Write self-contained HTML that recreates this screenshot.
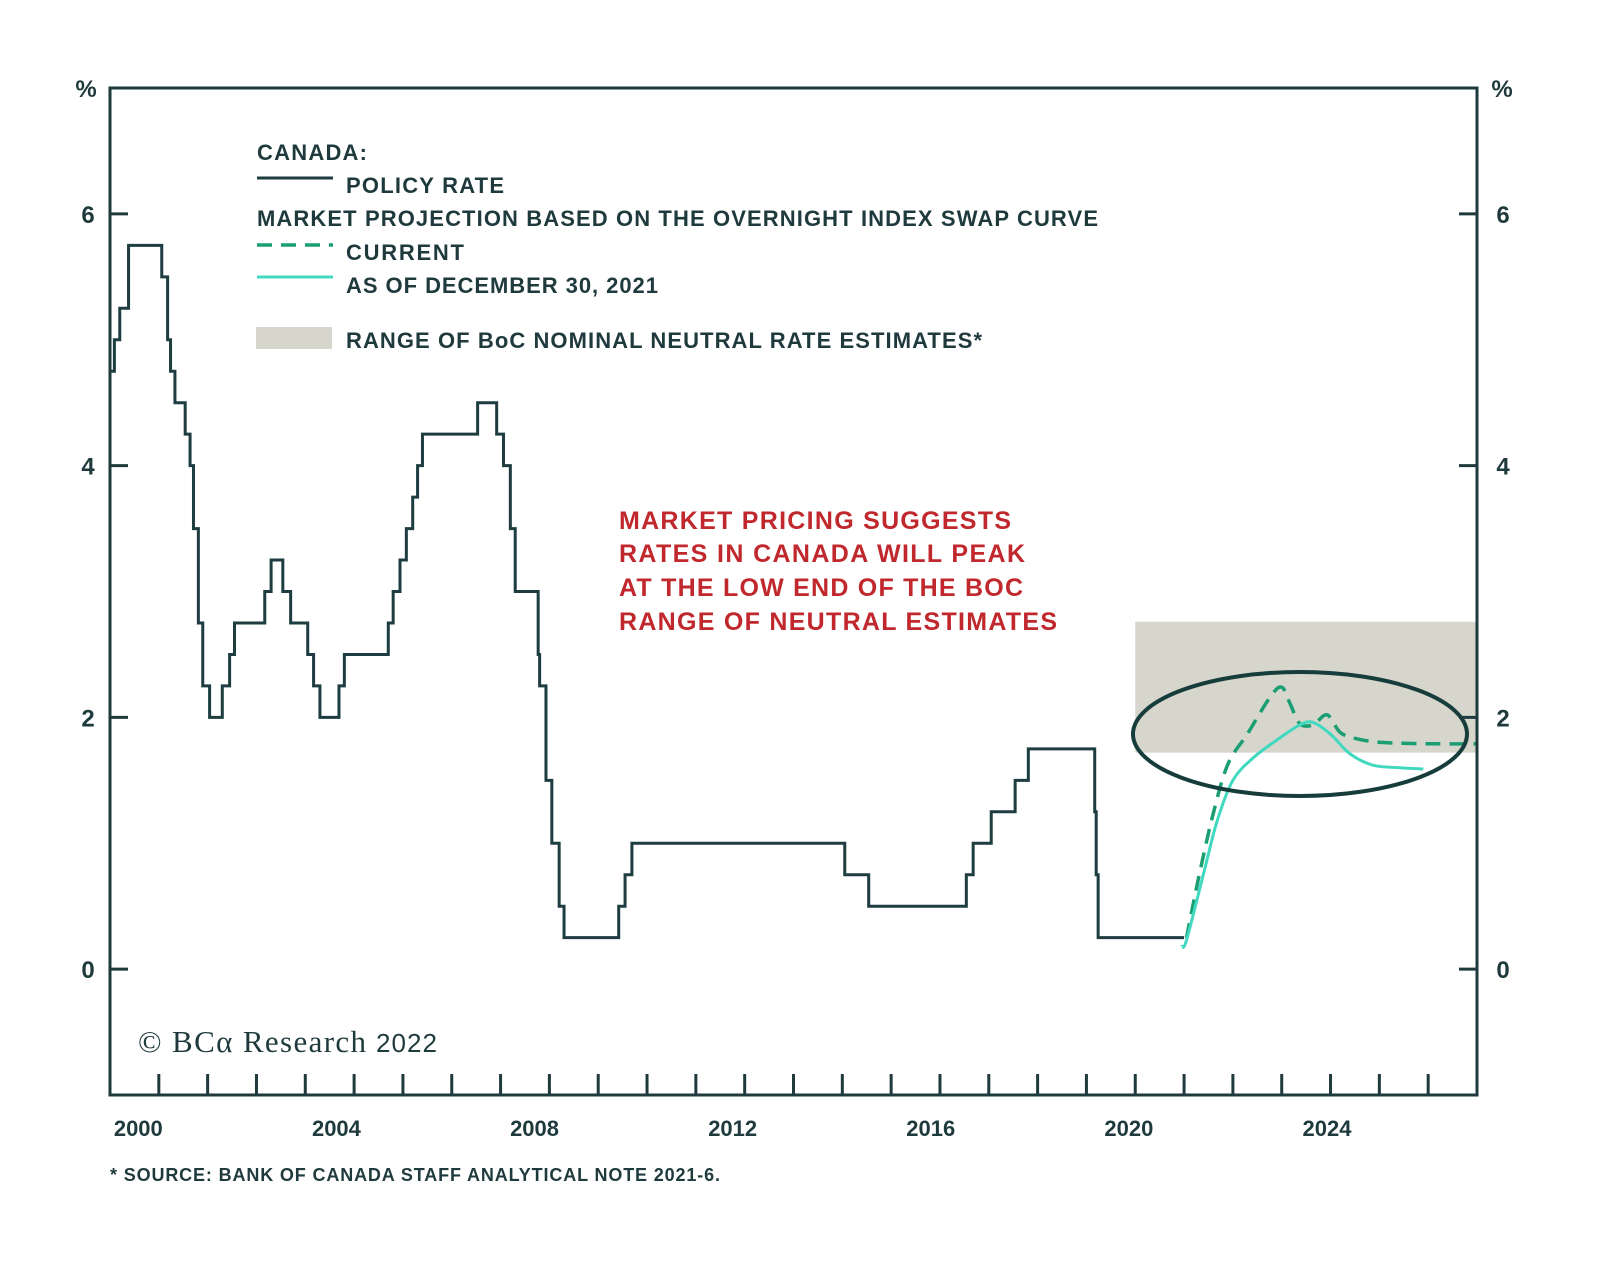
<!DOCTYPE html>
<html><head><meta charset="utf-8"><style>
html,body{margin:0;padding:0;background:#fff;}
svg{display:block;}
text{font-family:"Liberation Sans",sans-serif;fill:#1f3a3d;}
text.serif{font-family:"Liberation Serif",serif;}
</style></head><body>
<svg id="chart" width="1600" height="1265" viewBox="0 0 1600 1265">
<g id="bg"></g>
<g id="marks"></g>
<g id="axes"></g>
<g id="legend">
 <text x="257" y="160" font-size="22" font-weight="bold" textLength="110">CANADA:</text>
 <line x1="257" y1="178" x2="333" y2="178" stroke="#1d3d40" stroke-width="3"/>
 <text x="346" y="193" font-size="22" font-weight="bold" textLength="158">POLICY RATE</text>
 <text x="257" y="226" font-size="22" font-weight="bold" textLength="841">MARKET PROJECTION BASED ON THE OVERNIGHT INDEX SWAP CURVE</text>
 <line x1="257" y1="245" x2="333" y2="245" stroke="#1a9e72" stroke-width="3.5" stroke-dasharray="15,9"/>
 <text x="346" y="260" font-size="22" font-weight="bold" textLength="118">CURRENT</text>
 <line x1="257" y1="277" x2="333" y2="277" stroke="#40d9c0" stroke-width="3"/>
 <text x="346" y="293" font-size="22" font-weight="bold" textLength="312">AS OF DECEMBER 30, 2021</text>
 <rect x="256" y="327" width="76" height="22" fill="#d6d6cc"/>
 <text x="346" y="348" font-size="22" font-weight="bold" textLength="636">RANGE OF BoC NOMINAL NEUTRAL RATE ESTIMATES*</text>
</g>
<g font-size="25" font-weight="bold">
 <text x="619" y="529" style="fill:#c0282d" textLength="392">MARKET PRICING SUGGESTS</text>
 <text x="619" y="562" style="fill:#c0282d" textLength="406">RATES IN CANADA WILL PEAK</text>
 <text x="619" y="596" style="fill:#c0282d" textLength="404">AT THE LOW END OF THE BOC</text>
 <text x="619" y="630" style="fill:#c0282d" textLength="438">RANGE OF NEUTRAL ESTIMATES</text>
</g>
<text class="serif" x="138" y="1052" font-size="31" textLength="228">© BCα Research</text>
<text x="376" y="1052" font-size="26" textLength="61">2022</text>
<text x="110" y="1181" font-size="18" font-weight="bold" textLength="610">* SOURCE: BANK OF CANADA STAFF ANALYTICAL NOTE 2021-6.</text>
</svg>
<script>
const policyDates=[2000.0,2000.09,2000.2,2000.38,2001.06,2001.18,2001.24,2001.33,2001.54,2001.64,2001.71,2001.81,2001.9,2002.04,2002.3,2002.45,2002.55,2003.17,2003.3,2003.54,2003.7,2004.05,2004.17,2004.3,2004.69,2004.8,2005.7,2005.8,2005.94,2006.07,2006.2,2006.3,2006.4,2007.53,2007.92,2008.06,2008.2,2008.3,2008.77,2008.8,2008.93,2009.05,2009.2,2009.3,2010.42,2010.55,2010.69,2015.05,2015.54,2017.54,2017.68,2018.05,2018.54,2018.81,2020.17,2020.2,2020.24];
const policyRates=[4.75,5.0,5.25,5.75,5.5,5.0,4.75,4.5,4.25,4.0,3.5,2.75,2.25,2.0,2.25,2.5,2.75,3.0,3.25,3.0,2.75,2.5,2.25,2.0,2.25,2.5,2.75,3.0,3.25,3.5,3.75,4.0,4.25,4.5,4.25,4.0,3.5,3.0,2.5,2.25,1.5,1.0,0.5,0.25,0.5,0.75,1.0,0.75,0.5,0.75,1.0,1.25,1.5,1.75,1.25,0.75,0.25];
const policyEnd=2022.0;
const currentDates=[2022.05,2022.3,2022.6,2022.9,2023.3,2023.76,2024.0,2024.17,2024.37,2024.64,2024.93,2025.2,2025.54,2026.08,2027.1,2028.0];
const currentValues=[0.25,0.73,1.24,1.63,1.87,2.16,2.24,2.11,1.95,1.94,2.02,1.88,1.83,1.80,1.79,1.79];
const dec30Dates=[2021.95,2022.05,2022.4,2022.68,2023.0,2023.42,2023.9,2024.37,2024.64,2024.99,2025.4,2025.87,2026.42,2026.9];
const dec30Values=[0.18,0.23,0.76,1.18,1.5,1.68,1.82,1.94,1.96,1.87,1.71,1.62,1.60,1.59];
const neutralRange=[1.72,2.76];
const neutralStart=2021.0;
const yTicks=[0,2,4,6];
const xLabels=[2000,2004,2008,2012,2016,2020,2024];

const L=110,R=1477,T=88,B=1095,X0=2000,X1=2028,Y0=-1,Y1=7;
const x=t=>L+(t-X0)*(R-L)/(X1-X0);
const y=v=>B-(v-Y0)*(B-T)/(Y1-Y0);
const NS='http://www.w3.org/2000/svg';
function mk(tag,attrs,parent){const e=document.createElementNS(NS,tag);for(const k in attrs)e.setAttribute(k,attrs[k]);parent.appendChild(e);return e;}
const bg=document.getElementById('bg'),marks=document.getElementById('marks'),axes=document.getElementById('axes');

const band=mk('rect',{x:x(neutralStart),y:y(neutralRange[1]),width:R-x(neutralStart),height:y(neutralRange[0])-y(neutralRange[1]),fill:'#d6d6cc'},bg);



let d='M'+x(policyDates[0])+','+y(policyRates[0]);
for(let i=1;i<policyDates.length;i++){d+=' H'+x(policyDates[i])+' V'+y(policyRates[i]);}
d+=' H'+x(policyEnd);
const pl=mk('path',{d:d,fill:'none',stroke:'#1d3d40','stroke-width':3},marks);



function smooth(ts,vs){
 const P=ts.map((t,i)=>[x(t),y(vs[i])]);
 let p='M'+P[0][0]+','+P[0][1];
 for(let i=0;i<P.length-1;i++){
  const p0=P[i-1]||P[i],p1=P[i],p2=P[i+1],p3=P[i+2]||P[i+1];
  const c1=[p1[0]+(p2[0]-p0[0])/6,p1[1]+(p2[1]-p0[1])/6];
  const c2=[p2[0]-(p3[0]-p1[0])/6,p2[1]-(p3[1]-p1[1])/6];
  p+=' C'+c1[0]+','+c1[1]+' '+c2[0]+','+c2[1]+' '+p2[0]+','+p2[1];
 }
 return p;
}
const cl=mk('path',{d:smooth(currentDates,currentValues),fill:'none',stroke:'#1a9e72','stroke-width':3.5,'stroke-dasharray':'15,9','stroke-linejoin':'round'},marks);


const dl=mk('path',{d:smooth(dec30Dates,dec30Values),fill:'none',stroke:'#40d9c0','stroke-width':3,'stroke-linejoin':'round'},marks);



const el=mk('ellipse',{cx:1300,cy:734,rx:167,ry:62,fill:'none',stroke:'#163c3c','stroke-width':4},marks);



const frame=mk('rect',{x:L,y:T,width:R-L,height:B-T,fill:'none',stroke:'#1f3a3d','stroke-width':3},axes);



yTicks.forEach(v=>{
 const a=mk('line',{x1:L,x2:L+18,y1:y(v),y2:y(v),stroke:'#1f3a3d','stroke-width':3},axes);
 
 
 const b=mk('line',{x1:R-18,x2:R,y1:y(v),y2:y(v),stroke:'#1f3a3d','stroke-width':3},axes);
 
 
 const t1=mk('text',{x:88,y:y(v)+9,'font-size':24,'font-weight':'bold','text-anchor':'middle'},axes);t1.textContent=v;
 
 
 const t2=mk('text',{x:1503,y:y(v)+9,'font-size':24,'font-weight':'bold','text-anchor':'middle'},axes);t2.textContent=v;
 
 
});
['left','right'].forEach((s,i)=>{
 const p=mk('text',{x:i?1502:86,y:97,'font-size':24,'font-weight':'bold','text-anchor':'middle'},axes);p.textContent='%';
 
 
});
for(let yr=X0+1;yr<X1;yr++){
 const tk=mk('line',{x1:x(yr),x2:x(yr),y1:B,y2:B-21,stroke:'#1f3a3d','stroke-width':3},axes);
 
 
}
xLabels.forEach(yr=>{
 const t=mk('text',{x:x(yr+0.58+(yr-2000)*0.0145),y:1136,'font-size':22,'font-weight':'bold','text-anchor':'middle'},axes);t.textContent=yr;
 
 
});
</script>
</body></html>
